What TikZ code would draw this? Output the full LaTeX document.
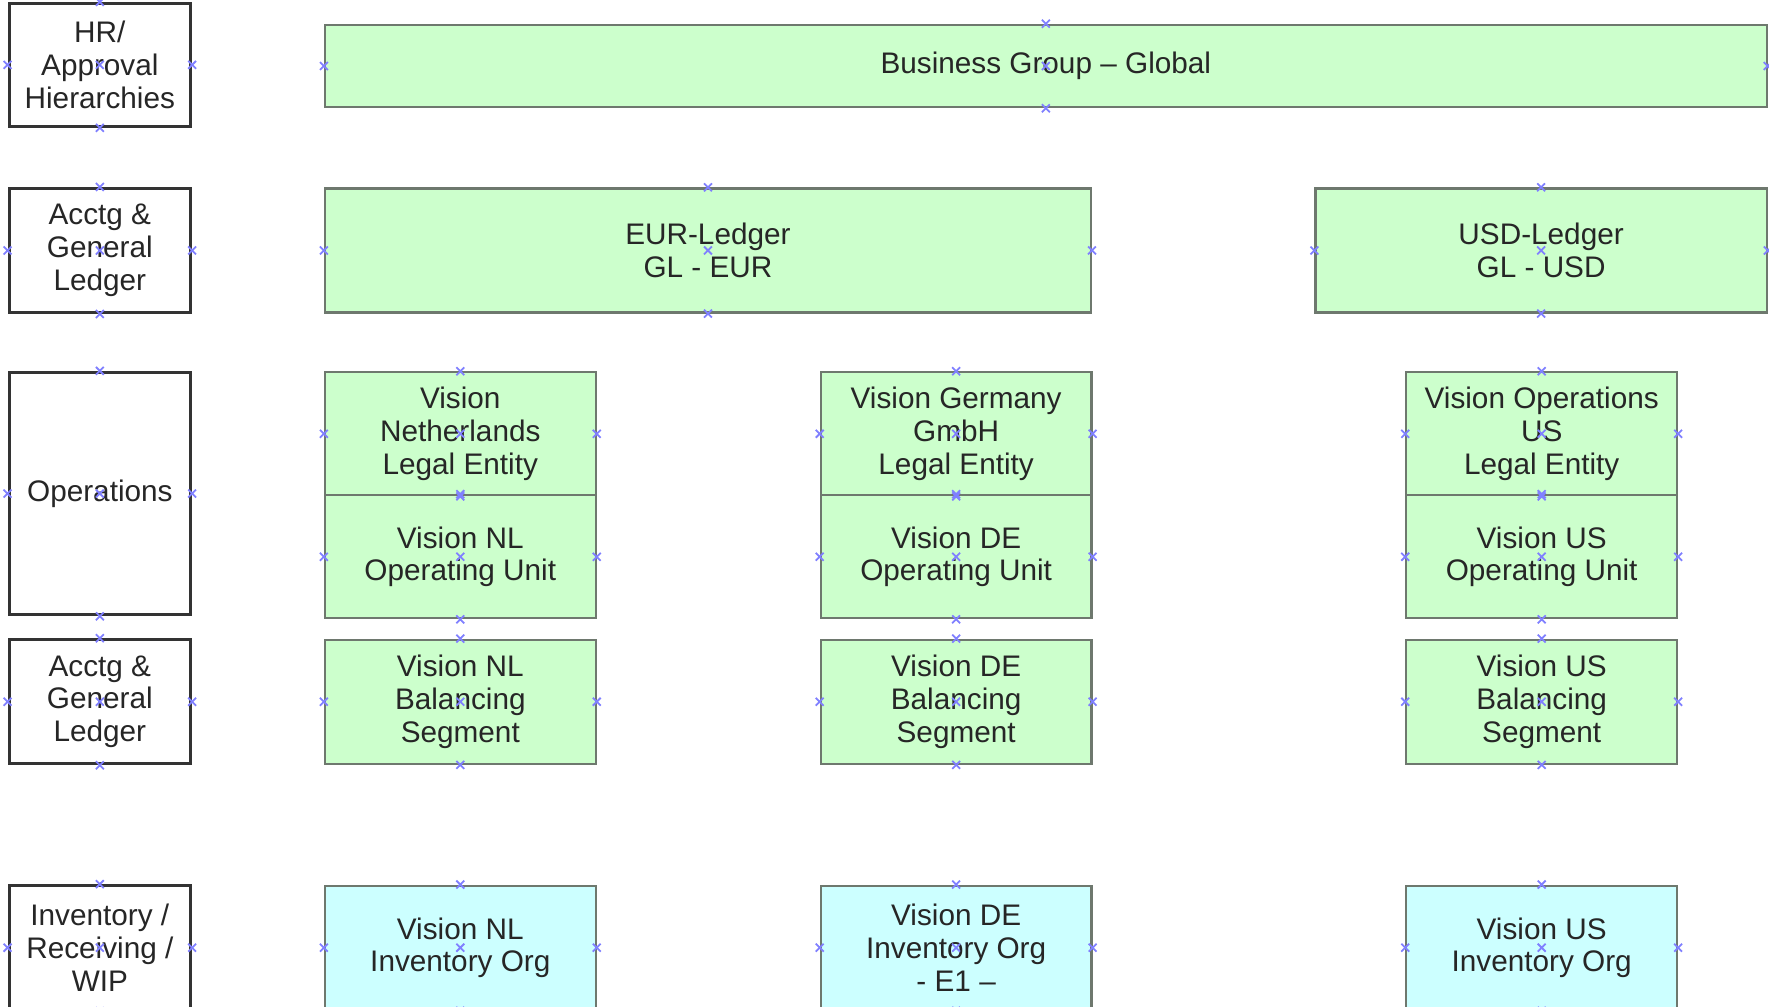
\documentclass[tikz,border=0pt]{standalone}
\usepackage{fontspec}
\setmainfont{Liberation Sans}
\definecolor{entgreen}{HTML}{CCFFCC}
\definecolor{invcyan}{HTML}{CCFFFF}
\definecolor{boxline}{HTML}{6E786E}
\definecolor{cptblue}{HTML}{8080FF}
\tikzset{
  lvlbox/.style={draw=black!80, line width=1.5pt, fill=white, minimum width=3.22cm, align=center, inner sep=0pt},
  entbox/.style={draw=boxline, line width=1.1pt, fill=entgreen, minimum width=4.8cm, align=center, inner sep=0pt},
  invbox/.style={entbox, fill=invcyan, minimum height=2.2cm},
  cpt/.style={draw=cptblue, line width=0.9pt},
}

\begin{document}
\begin{tikzpicture}[x=0.02cm, y=-0.02cm, font=\fontsize{15}{16.5}\selectfont, text=black!85]
        \useasboundingbox (0,0) rectangle (1568,892);
        \clip (0,0) rectangle (1568,892);
        % level labels on the left
        \node[lvlbox, minimum height=2.18cm] (hr) at (88.5,57.5) {HR/\\Approval\\Hierarchies};
        \node[lvlbox, minimum height=2.2cm] (gl) at (88.5,222) {Acctg \&\\General\\Ledger};
        \node[lvlbox, minimum height=4.3cm] (ops) at (88.5,437.5) {Operations};
        \node[lvlbox, minimum height=2.2cm] (bsv) at (88.5,622) {Acctg \&\\General\\Ledger};
        \node[lvlbox, minimum height=2.2cm] (inv) at (88.5,840) {Inventory /\\Receiving /\\WIP};
        % business group and ledgers
        \node[entbox, minimum width=25.56cm, minimum height=1.46cm] (bg) at (927,58.5) {Business Group -- Global};
        \node[entbox, minimum width=13.58cm, minimum height=2.2cm] (eur) at (627.5,222) {EUR-Ledger\\GL - EUR};
        \node[entbox, minimum width=8cm, minimum height=2.2cm] (usd) at (1366,222) {USD-Ledger\\GL - USD};
        % Netherlands
        \node[entbox, minimum height=2.18cm] (nlle) at (408,384.5) {Vision\\Netherlands\\Legal Entity};
        \node[entbox, minimum height=2.18cm] (nlou) at (408,493.5) {Vision NL\\Operating Unit};
        \node[entbox, minimum height=2.2cm] (nlbs) at (408,622) {Vision NL\\Balancing\\Segment};
        \node[invbox] (nlio) at (408,840) {Vision NL\\Inventory Org};
        % Germany
        \node[entbox, minimum height=2.18cm] (dele) at (847.5,384.5) {Vision Germany\\GmbH\\Legal Entity};
        \node[entbox, minimum height=2.18cm] (deou) at (847.5,493.5) {Vision DE\\Operating Unit};
        \node[entbox, minimum height=2.2cm] (debs) at (847.5,622) {Vision DE\\Balancing\\Segment};
        \node[invbox] (deio) at (847.5,840) {Vision DE\\Inventory Org\\- E1 --};
        % United States
        \node[entbox, minimum height=2.18cm] (usle) at (1366.5,384.5) {Vision Operations\\US\\Legal Entity};
        \node[entbox, minimum height=2.18cm] (usou) at (1366.5,493.5) {Vision US\\Operating Unit};
        \node[entbox, minimum height=2.2cm] (usbs) at (1366.5,622) {Vision US\\Balancing\\Segment};
        \node[invbox] (usio) at (1366.5,840) {Vision US\\Inventory Org};
        % connection points
        \foreach \n in {hr,gl,ops,bsv,inv,bg,eur,usd,nlle,nlou,nlbs,nlio,dele,deou,debs,deio,usle,usou,usbs,usio}
          \foreach \a in {north,south,east,west,center}
            \draw[cpt] (\n.\a) ++(-3.5,-3.5) -- ++(7,7) ++(-7,0) -- ++(7,-7);
    \end{tikzpicture}
\end{document}
